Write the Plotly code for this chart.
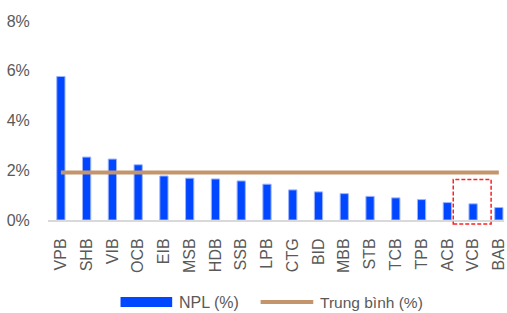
import plotly.graph_objects as go

banks = ["VPB", "SHB", "VIB", "OCB", "EIB", "MSB", "HDB", "SSB", "LPB", "CTG",
         "BID", "MBB", "STB", "TCB", "TPB", "ACB", "VCB", "BAB"]
npl = [5.77, 2.53, 2.45, 2.22, 1.77, 1.68, 1.65, 1.57, 1.44, 1.21,
       1.13, 1.06, 0.95, 0.89, 0.82, 0.70, 0.65, 0.50]
avg_value = 1.91
avg = [avg_value] * len(banks)
highlight = "VCB"

BLUE = "#0047FF"
TAN = "#C4956C"
GRAY = "#595959"
FONT = "Liberation Sans, Arial, sans-serif"

fig = go.Figure()
fig.add_trace(go.Bar(
    x=banks, y=npl, name="NPL (%)", width=0.32,
    marker=dict(color=BLUE, line=dict(color="#9DB4FF", width=1)),
    showlegend=False,
))
fig.add_trace(go.Scatter(
    x=banks, y=avg, name="Trung bình (%)", mode="lines",
    line=dict(color=TAN, width=4), showlegend=False,
))

hi = banks.index(highlight)
fig.add_shape(type="rect", xref="x", yref="paper",
              x0=hi - 0.77, x1=hi + 0.7, y0=-0.02, y1=0.203,
              line=dict(color="#FF2020", width=1.5, dash="4px,2px"))

# manual legend
fig.add_shape(type="rect", xref="paper", yref="paper",
              x0=(121 - 48) / 459, x1=(173 - 48) / 459,
              y0=(220 - 297) / 199, y1=(220 - 307) / 199,
              fillcolor=BLUE, line=dict(width=0))
fig.add_shape(type="line", xref="paper", yref="paper",
              x0=(262 - 48) / 459, x1=(315 - 48) / 459,
              y0=(220 - 302) / 199, y1=(220 - 302) / 199,
              line=dict(color=TAN, width=4))
fig.add_annotation(text="NPL (%)", xref="paper", yref="paper",
                   x=(178 - 48) / 459, y=(220 - 302) / 199,
                   xanchor="left", yanchor="middle", showarrow=False,
                   font=dict(family=FONT, size=16, color=GRAY))
fig.add_annotation(text="Trung bình (%)", xref="paper", yref="paper",
                   x=(320 - 48) / 459, y=(220 - 302) / 199,
                   xanchor="left", yanchor="middle", showarrow=False,
                   font=dict(family=FONT, size=15.5, color=GRAY))

fig.update_layout(
    width=507, height=313,
    margin=dict(l=48, r=0, t=21, b=93),
    paper_bgcolor="white", plot_bgcolor="white",
    font=dict(family=FONT, size=16, color=GRAY),
    bargap=0.68,
)
fig.update_xaxes(
    range=[-0.5, 17.2],
    tickangle=-90, showgrid=False, showline=True, linecolor="#D9D9D9", linewidth=2,
    ticks="outside", ticklen=10, tickcolor="rgba(0,0,0,0)",
    tickfont=dict(family=FONT, size=16, color=GRAY),
)
fig.update_yaxes(
    range=[0, 8], dtick=2, tickformat=".0f", ticksuffix="%",
    showgrid=False, zeroline=False, showline=False,
    ticks="outside", ticklen=14, tickcolor="rgba(0,0,0,0)",
    tickfont=dict(family=FONT, size=16, color=GRAY),
)

fig.write_html("out.html", config={"displayModeBar": False},
               post_script="document.body.style.margin='0';document.body.style.overflow='hidden';")
